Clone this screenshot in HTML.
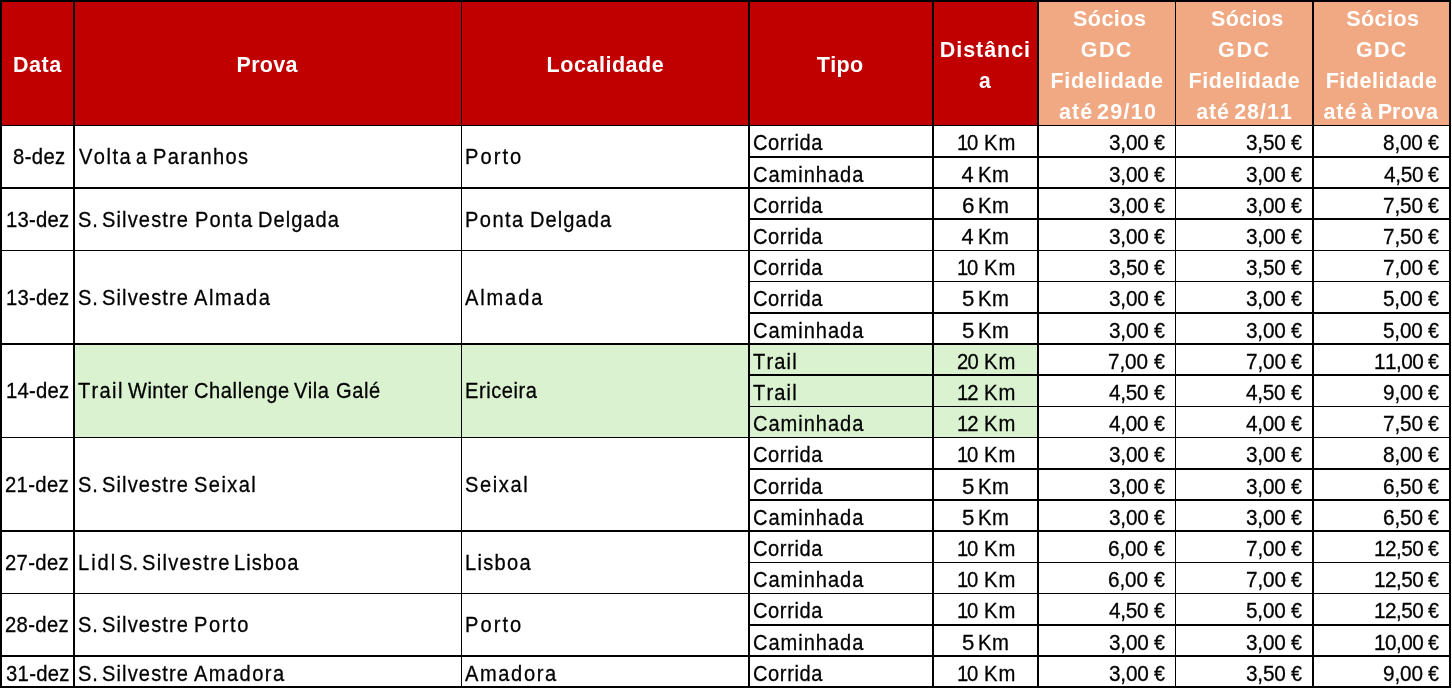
<!DOCTYPE html>
<html lang="pt">
<head>
<meta charset="utf-8">
<title>Calendário de Provas</title>
<style>
html,body{margin:0;padding:0;background:#fff;}
body{width:1452px;height:689px;overflow:hidden;position:relative;
 font-family:"Liberation Sans",sans-serif;color:#000;font-kerning:none;}
table{position:absolute;left:0;top:0;border-collapse:separate;border-spacing:0;
 table-layout:fixed;width:1451px;margin:0;padding:0;}
th,td{margin:0;padding:0;border:0 solid #000;overflow:hidden;white-space:nowrap;
 font-size:22px;line-height:24px;font-weight:400;box-sizing:border-box;
 vertical-align:top;text-align:left;border-bottom-width:2px;border-right-width:2px;}
th{font-weight:700;color:#fff;background:#c00000;border-top-width:2px;border-bottom-width:1px;}
th.s{background:#f1a983;}
th div{position:relative;height:123px;overflow:hidden;font-size:21.5px;line-height:24px;}
th p{position:absolute;left:0;margin:0;white-space:nowrap;}
th span{display:inline-block;vertical-align:top;transform:scaleX(1);transform-origin:0 50%;}
td{-webkit-text-stroke:0.3px #000;}
td span{display:inline-block;vertical-align:top;transform-origin:0 50%;}
td.t{font-size:22.3px;}
td.t span{transform:scaleX(0.9);}
td.m{font-size:21.8px;}
td.m span{transform:scaleX(0.93);}
td.n{font-size:21.6px;}
td.n span{transform:scaleX(0.96);}
td.g{background:#daf2d0;}
td.b1{border-bottom-width:1px;}
.f{border-left-width:2px;}
.c1{border-right-width:1px;}

</style>
</head>
<body>
<table>
<colgroup><col style="width:75px"><col style="width:387px"><col style="width:288px"><col style="width:184px"><col style="width:105px"><col style="width:137px"><col style="width:138px"><col style="width:137px"></colgroup>
<thead>
<tr style="height:126px">
<th class="f"><div><p style="top:51px"><span style="margin-left:11.06px;letter-spacing:0.5px">Data</span></p></div></th>
<th class="c1"><div><p style="top:51px"><span style="margin-left:161.56px;letter-spacing:0.26px">Prova</span></p></div></th>
<th><div><p style="top:51px"><span style="margin-left:84.56px;letter-spacing:0.54px">Localidade</span></p></div></th>
<th><div><p style="top:51px"><span style="margin-left:66.76px;letter-spacing:0.34px">Tipo</span></p></div></th>
<th><div><p style="top:36px"><span style="margin-left:5.76px;letter-spacing:0.95px">Distânci</span></p><p style="top:67px"><span style="margin-left:44.78px;transform:scaleX(0.98)">a</span></p></div></th>
<th class="s c1"><div><p style="top:5px"><span style="margin-left:33.88px;letter-spacing:0.52px">Sócios</span></p> <p style="top:36px"><span style="margin-left:41.82px;letter-spacing:1.4px">GDC</span></p> <p style="top:67px"><span style="margin-left:11.46px;letter-spacing:0.68px">Fidelidade</span></p> <p style="top:98px"><span style="margin-left:20.07px;letter-spacing:1px">até</span> <span style="margin-left:-2.25px;letter-spacing:1.31px">29/10</span></p></div></th>
<th class="s"><div><p style="top:5px"><span style="margin-left:35.08px;letter-spacing:0.32px">Sócios</span></p> <p style="top:36px"><span style="margin-left:42.12px;letter-spacing:1.55px">GDC</span></p> <p style="top:67px"><span style="margin-left:12.46px;letter-spacing:0.54px">Fidelidade</span></p> <p style="top:98px"><span style="margin-left:20.27px;letter-spacing:0.85px">até</span> <span style="margin-left:-1.7px;letter-spacing:0.96px">28/11</span></p></div></th>
<th class="s"><div><p style="top:5px"><span style="margin-left:32.28px;letter-spacing:0.44px">Sócios</span></p> <p style="top:36px"><span style="margin-left:42.12px;letter-spacing:1.15px">GDC</span></p> <p style="top:67px"><span style="margin-left:11.66px;letter-spacing:0.54px">Fidelidade</span></p> <p style="top:98px"><span style="margin-left:9.47px;letter-spacing:0.9px">até</span> <span style="margin-left:-2.42px;transform:scaleX(0.95)">à</span> <span style="margin-left:-1.15px;letter-spacing:0.14px">Prova</span></p></div></th>
</tr>
</thead>
<tbody>
<tr style="height:32px"><td class="m f" rowspan="2" style="padding-top:19px;padding-left:10.62px"><span style="letter-spacing:0.4px">8-dez</span></td><td class="t c1" rowspan="2" style="padding-top:19px;padding-left:3.61px"><span style="letter-spacing:1.62px">Volta</span> <span style="margin-left:-7.25px;transform:scaleX(0.85)">a</span> <span style="margin-left:-1.74px;letter-spacing:1.44px">Paranhos</span></td><td class="t" rowspan="2" style="padding-top:19px;padding-left:2.75px"><span style="letter-spacing:2.28px">Porto</span></td><td class="t" style="padding-top:5px;padding-left:2.98px"><span style="letter-spacing:0.67px">Corrida</span></td><td class="m" style="padding-top:5px;padding-left:23.16px"><span style="letter-spacing:-1.31px">10</span> <span style="margin-left:-0.81px;letter-spacing:1.17px">Km</span></td><td class="n c1" style="padding-top:5px;padding-left:69.71px"><span style="letter-spacing:-0.19px">3,00</span> <span style="margin-left:-2.43px;transform:scaleX(0.91)">€</span></td><td class="n" style="padding-top:5px;padding-left:69.81px"><span style="letter-spacing:-0.19px">3,50</span> <span style="margin-left:-2.43px;transform:scaleX(0.91)">€</span></td><td class="n" style="padding-top:5px;padding-left:69.3px"><span style="letter-spacing:-0.16px">8,00</span> <span style="margin-left:-2.47px;transform:scaleX(0.91)">€</span></td></tr>
<tr style="height:31px"><td class="t" style="padding-top:5px;padding-left:2.98px"><span style="letter-spacing:1.08px">Caminhada</span></td><td class="m" style="padding-top:5px;padding-left:27.6px"><span style="transform:scaleX(1)">4</span> <span style="margin-left:-1.74px;letter-spacing:0.53px">Km</span></td><td class="n c1" style="padding-top:5px;padding-left:69.71px"><span style="letter-spacing:-0.19px">3,00</span> <span style="margin-left:-2.43px;transform:scaleX(0.91)">€</span></td><td class="n" style="padding-top:5px;padding-left:69.81px"><span style="letter-spacing:-0.19px">3,00</span> <span style="margin-left:-2.43px;transform:scaleX(0.91)">€</span></td><td class="n" style="padding-top:5px;padding-left:69.72px"><span style="letter-spacing:-0.3px">4,50</span> <span style="margin-left:-2.31px;transform:scaleX(0.91)">€</span></td></tr>
<tr style="height:31px"><td class="m b1 f" rowspan="2" style="padding-top:19px;padding-left:3.96px"><span style="letter-spacing:0.23px">13-dez</span></td><td class="t b1 c1" rowspan="2" style="padding-top:19px;padding-left:2.79px"><span style="letter-spacing:0.98px">S.</span> <span style="margin-left:-4.62px;letter-spacing:1.26px">Silvestre</span> <span style="margin-left:-10.85px;letter-spacing:1.28px">Ponta</span> <span style="margin-left:-7.06px;letter-spacing:1.13px">Delgada</span></td><td class="t b1" rowspan="2" style="padding-top:19px;padding-left:2.75px"><span style="letter-spacing:1.61px">Ponta</span> <span style="margin-left:-7.22px;letter-spacing:1.18px">Delgada</span></td><td class="t" style="padding-top:5px;padding-left:2.98px"><span style="letter-spacing:0.67px">Corrida</span></td><td class="m" style="padding-top:5px;padding-left:27.56px"><span style="transform:scaleX(1.03)">6</span> <span style="margin-left:-1.7px;letter-spacing:0.53px">Km</span></td><td class="n c1" style="padding-top:5px;padding-left:69.71px"><span style="letter-spacing:-0.19px">3,00</span> <span style="margin-left:-2.43px;transform:scaleX(0.91)">€</span></td><td class="n" style="padding-top:5px;padding-left:69.81px"><span style="letter-spacing:-0.19px">3,00</span> <span style="margin-left:-2.43px;transform:scaleX(0.91)">€</span></td><td class="n" style="padding-top:5px;padding-left:69.14px"><span style="letter-spacing:-0.1px">7,50</span> <span style="margin-left:-2.54px;transform:scaleX(0.91)">€</span></td></tr>
<tr style="height:31px"><td class="t b1" style="padding-top:5px;padding-left:2.98px"><span style="letter-spacing:0.67px">Corrida</span></td><td class="m b1" style="padding-top:5px;padding-left:27.6px"><span style="transform:scaleX(1)">4</span> <span style="margin-left:-1.74px;letter-spacing:0.53px">Km</span></td><td class="n b1 c1" style="padding-top:5px;padding-left:69.71px"><span style="letter-spacing:-0.19px">3,00</span> <span style="margin-left:-2.43px;transform:scaleX(0.91)">€</span></td><td class="n b1" style="padding-top:5px;padding-left:69.81px"><span style="letter-spacing:-0.19px">3,00</span> <span style="margin-left:-2.43px;transform:scaleX(0.91)">€</span></td><td class="n b1" style="padding-top:5px;padding-left:69.14px"><span style="letter-spacing:-0.1px">7,50</span> <span style="margin-left:-2.54px;transform:scaleX(0.91)">€</span></td></tr>
<tr style="height:31px"><td class="m f" rowspan="3" style="padding-top:35px;padding-left:3.96px"><span style="letter-spacing:0.23px">13-dez</span></td><td class="t c1" rowspan="3" style="padding-top:35px;padding-left:2.79px"><span style="letter-spacing:0.98px">S.</span> <span style="margin-left:-4.62px;letter-spacing:1.26px">Silvestre</span> <span style="margin-left:-11.04px;letter-spacing:1.75px">Almada</span></td><td class="t" rowspan="3" style="padding-top:35px;padding-left:3.36px"><span style="letter-spacing:2.06px">Almada</span></td><td class="t b1" style="padding-top:5px;padding-left:2.98px"><span style="letter-spacing:0.67px">Corrida</span></td><td class="m b1" style="padding-top:5px;padding-left:23.16px"><span style="letter-spacing:-1.31px">10</span> <span style="margin-left:-0.81px;letter-spacing:1.17px">Km</span></td><td class="n b1 c1" style="padding-top:5px;padding-left:69.71px"><span style="letter-spacing:-0.19px">3,50</span> <span style="margin-left:-2.43px;transform:scaleX(0.91)">€</span></td><td class="n b1" style="padding-top:5px;padding-left:69.81px"><span style="letter-spacing:-0.19px">3,50</span> <span style="margin-left:-2.43px;transform:scaleX(0.91)">€</span></td><td class="n b1" style="padding-top:5px;padding-left:69.14px"><span style="letter-spacing:-0.1px">7,00</span> <span style="margin-left:-2.54px;transform:scaleX(0.91)">€</span></td></tr>
<tr style="height:32px"><td class="t" style="padding-top:5px;padding-left:2.98px"><span style="letter-spacing:0.67px">Corrida</span></td><td class="m" style="padding-top:5px;padding-left:27.71px"><span style="transform:scaleX(1.02)">5</span> <span style="margin-left:-1.86px;letter-spacing:0.53px">Km</span></td><td class="n c1" style="padding-top:5px;padding-left:69.71px"><span style="letter-spacing:-0.19px">3,00</span> <span style="margin-left:-2.43px;transform:scaleX(0.91)">€</span></td><td class="n" style="padding-top:5px;padding-left:69.81px"><span style="letter-spacing:-0.19px">3,00</span> <span style="margin-left:-2.43px;transform:scaleX(0.91)">€</span></td><td class="n" style="padding-top:5px;padding-left:69.37px"><span style="letter-spacing:-0.18px">5,00</span> <span style="margin-left:-2.44px;transform:scaleX(0.91)">€</span></td></tr>
<tr style="height:31px"><td class="t" style="padding-top:5px;padding-left:2.98px"><span style="letter-spacing:1.08px">Caminhada</span></td><td class="m" style="padding-top:5px;padding-left:27.71px"><span style="transform:scaleX(1.02)">5</span> <span style="margin-left:-1.86px;letter-spacing:0.53px">Km</span></td><td class="n c1" style="padding-top:5px;padding-left:69.71px"><span style="letter-spacing:-0.19px">3,00</span> <span style="margin-left:-2.43px;transform:scaleX(0.91)">€</span></td><td class="n" style="padding-top:5px;padding-left:69.81px"><span style="letter-spacing:-0.19px">3,00</span> <span style="margin-left:-2.43px;transform:scaleX(0.91)">€</span></td><td class="n" style="padding-top:5px;padding-left:69.37px"><span style="letter-spacing:-0.18px">5,00</span> <span style="margin-left:-2.44px;transform:scaleX(0.91)">€</span></td></tr>
<tr style="height:31px"><td class="m b1 f" rowspan="3" style="padding-top:34px;padding-left:3.96px"><span style="letter-spacing:0.23px">14-dez</span></td><td class="t g b1 c1" rowspan="3" style="padding-top:34px;padding-left:2.85px"><span style="letter-spacing:1.49px">Trail</span> <span style="margin-left:-7.05px;letter-spacing:0.5px">Winter</span> <span style="margin-left:-7.84px;letter-spacing:0.67px">Challenge</span> <span style="margin-left:-12.03px;letter-spacing:0.53px">Vila</span> <span style="margin-left:-3.51px;letter-spacing:0.67px">Galé</span></td><td class="t g b1" rowspan="3" style="padding-top:34px;padding-left:2.55px"><span style="letter-spacing:0.62px">Ericeira</span></td><td class="t g" style="padding-top:5px;padding-left:3.25px"><span style="letter-spacing:1.27px">Trail</span></td><td class="m g" style="padding-top:5px;padding-left:22.78px"><span style="letter-spacing:-0.9px">20</span> <span style="margin-left:-1.24px;letter-spacing:1.17px">Km</span></td><td class="n c1" style="padding-top:5px;padding-left:69.44px"><span style="letter-spacing:-0.1px">7,00</span> <span style="margin-left:-2.54px;transform:scaleX(0.91)">€</span></td><td class="n" style="padding-top:5px;padding-left:69.54px"><span style="letter-spacing:-0.1px">7,00</span> <span style="margin-left:-2.54px;transform:scaleX(0.91)">€</span></td><td class="n" style="padding-top:5px;padding-left:59.52px"><span style="letter-spacing:-0.57px">11,00</span> <span style="margin-left:-2.46px;transform:scaleX(0.91)">€</span></td></tr>
<tr style="height:31px"><td class="t g b1" style="padding-top:5px;padding-left:3.25px"><span style="letter-spacing:1.27px">Trail</span></td><td class="m g b1" style="padding-top:5px;padding-left:23.16px"><span style="letter-spacing:-1.06px">12</span> <span style="margin-left:-1.3px;letter-spacing:1.17px">Km</span></td><td class="n b1 c1" style="padding-top:5px;padding-left:70.02px"><span style="letter-spacing:-0.3px">4,50</span> <span style="margin-left:-2.31px;transform:scaleX(0.91)">€</span></td><td class="n b1" style="padding-top:5px;padding-left:70.12px"><span style="letter-spacing:-0.3px">4,50</span> <span style="margin-left:-2.31px;transform:scaleX(0.91)">€</span></td><td class="n b1" style="padding-top:5px;padding-left:69.23px"><span style="letter-spacing:-0.13px">9,00</span> <span style="margin-left:-2.5px;transform:scaleX(0.91)">€</span></td></tr>
<tr style="height:31px"><td class="t g b1" style="padding-top:5px;padding-left:2.98px"><span style="letter-spacing:1.08px">Caminhada</span></td><td class="m g b1" style="padding-top:5px;padding-left:23.16px"><span style="letter-spacing:-1.06px">12</span> <span style="margin-left:-1.3px;letter-spacing:1.17px">Km</span></td><td class="n b1 c1" style="padding-top:5px;padding-left:70.02px"><span style="letter-spacing:-0.3px">4,00</span> <span style="margin-left:-2.31px;transform:scaleX(0.91)">€</span></td><td class="n b1" style="padding-top:5px;padding-left:70.12px"><span style="letter-spacing:-0.3px">4,00</span> <span style="margin-left:-2.31px;transform:scaleX(0.91)">€</span></td><td class="n b1" style="padding-top:5px;padding-left:69.14px"><span style="letter-spacing:-0.1px">7,50</span> <span style="margin-left:-2.54px;transform:scaleX(0.91)">€</span></td></tr>
<tr style="height:32px"><td class="m f" rowspan="3" style="padding-top:35px;padding-left:3.28px"><span style="letter-spacing:0.37px">21-dez</span></td><td class="t c1" rowspan="3" style="padding-top:35px;padding-left:2.79px"><span style="letter-spacing:0.98px">S.</span> <span style="margin-left:-4.62px;letter-spacing:1.26px">Silvestre</span> <span style="margin-left:-11.91px;letter-spacing:1.58px">Seixal</span></td><td class="t" rowspan="3" style="padding-top:35px;padding-left:2.59px"><span style="letter-spacing:1.78px">Seixal</span></td><td class="t" style="padding-top:5px;padding-left:2.98px"><span style="letter-spacing:0.67px">Corrida</span></td><td class="m" style="padding-top:5px;padding-left:23.16px"><span style="letter-spacing:-1.31px">10</span> <span style="margin-left:-0.81px;letter-spacing:1.17px">Km</span></td><td class="n c1" style="padding-top:5px;padding-left:69.71px"><span style="letter-spacing:-0.19px">3,00</span> <span style="margin-left:-2.43px;transform:scaleX(0.91)">€</span></td><td class="n" style="padding-top:5px;padding-left:69.81px"><span style="letter-spacing:-0.19px">3,00</span> <span style="margin-left:-2.43px;transform:scaleX(0.91)">€</span></td><td class="n" style="padding-top:5px;padding-left:69.3px"><span style="letter-spacing:-0.16px">8,00</span> <span style="margin-left:-2.47px;transform:scaleX(0.91)">€</span></td></tr>
<tr style="height:31px"><td class="t" style="padding-top:5px;padding-left:2.98px"><span style="letter-spacing:0.67px">Corrida</span></td><td class="m" style="padding-top:5px;padding-left:27.71px"><span style="transform:scaleX(1.02)">5</span> <span style="margin-left:-1.86px;letter-spacing:0.53px">Km</span></td><td class="n c1" style="padding-top:5px;padding-left:69.71px"><span style="letter-spacing:-0.19px">3,00</span> <span style="margin-left:-2.43px;transform:scaleX(0.91)">€</span></td><td class="n" style="padding-top:5px;padding-left:69.81px"><span style="letter-spacing:-0.19px">3,00</span> <span style="margin-left:-2.43px;transform:scaleX(0.91)">€</span></td><td class="n" style="padding-top:5px;padding-left:69.15px"><span style="letter-spacing:-0.1px">6,50</span> <span style="margin-left:-2.53px;transform:scaleX(0.91)">€</span></td></tr>
<tr style="height:31px"><td class="t" style="padding-top:5px;padding-left:2.98px"><span style="letter-spacing:1.08px">Caminhada</span></td><td class="m" style="padding-top:5px;padding-left:27.71px"><span style="transform:scaleX(1.02)">5</span> <span style="margin-left:-1.86px;letter-spacing:0.53px">Km</span></td><td class="n c1" style="padding-top:5px;padding-left:69.71px"><span style="letter-spacing:-0.19px">3,00</span> <span style="margin-left:-2.43px;transform:scaleX(0.91)">€</span></td><td class="n" style="padding-top:5px;padding-left:69.81px"><span style="letter-spacing:-0.19px">3,00</span> <span style="margin-left:-2.43px;transform:scaleX(0.91)">€</span></td><td class="n" style="padding-top:5px;padding-left:69.15px"><span style="letter-spacing:-0.1px">6,50</span> <span style="margin-left:-2.53px;transform:scaleX(0.91)">€</span></td></tr>
<tr style="height:31px"><td class="m b1 f" rowspan="2" style="padding-top:19px;padding-left:3.28px"><span style="letter-spacing:0.37px">27-dez</span></td><td class="t b1 c1" rowspan="2" style="padding-top:19px;padding-left:2.85px"><span style="letter-spacing:2.2px">Lidl</span> <span style="margin-left:-8.88px;letter-spacing:0.2px">S.</span> <span style="margin-left:-4.37px;letter-spacing:1.44px">Silvestre</span> <span style="margin-left:-12.97px;letter-spacing:1.18px">Lisboa</span></td><td class="t b1" rowspan="2" style="padding-top:19px;padding-left:2.65px"><span style="letter-spacing:1.45px">Lisboa</span></td><td class="t b1" style="padding-top:5px;padding-left:2.98px"><span style="letter-spacing:0.67px">Corrida</span></td><td class="m b1" style="padding-top:5px;padding-left:23.16px"><span style="letter-spacing:-1.31px">10</span> <span style="margin-left:-0.81px;letter-spacing:1.17px">Km</span></td><td class="n b1 c1" style="padding-top:5px;padding-left:69.45px"><span style="letter-spacing:-0.1px">6,00</span> <span style="margin-left:-2.53px;transform:scaleX(0.91)">€</span></td><td class="n b1" style="padding-top:5px;padding-left:69.54px"><span style="letter-spacing:-0.1px">7,00</span> <span style="margin-left:-2.54px;transform:scaleX(0.91)">€</span></td><td class="n b1" style="padding-top:5px;padding-left:59.52px"><span style="letter-spacing:-0.57px">12,50</span> <span style="margin-left:-2.46px;transform:scaleX(0.91)">€</span></td></tr>
<tr style="height:31px"><td class="t b1" style="padding-top:5px;padding-left:2.98px"><span style="letter-spacing:1.08px">Caminhada</span></td><td class="m b1" style="padding-top:5px;padding-left:23.16px"><span style="letter-spacing:-1.31px">10</span> <span style="margin-left:-0.81px;letter-spacing:1.17px">Km</span></td><td class="n b1 c1" style="padding-top:5px;padding-left:69.45px"><span style="letter-spacing:-0.1px">6,00</span> <span style="margin-left:-2.53px;transform:scaleX(0.91)">€</span></td><td class="n b1" style="padding-top:5px;padding-left:69.54px"><span style="letter-spacing:-0.1px">7,00</span> <span style="margin-left:-2.54px;transform:scaleX(0.91)">€</span></td><td class="n b1" style="padding-top:5px;padding-left:59.52px"><span style="letter-spacing:-0.57px">12,50</span> <span style="margin-left:-2.46px;transform:scaleX(0.91)">€</span></td></tr>
<tr style="height:32px"><td class="m f" rowspan="2" style="padding-top:19px;padding-left:3.28px"><span style="letter-spacing:0.37px">28-dez</span></td><td class="t c1" rowspan="2" style="padding-top:19px;padding-left:2.79px"><span style="letter-spacing:0.98px">S.</span> <span style="margin-left:-4.62px;letter-spacing:1.26px">Silvestre</span> <span style="margin-left:-11.15px;letter-spacing:1.81px">Porto</span></td><td class="t" rowspan="2" style="padding-top:19px;padding-left:2.75px"><span style="letter-spacing:2.28px">Porto</span></td><td class="t" style="padding-top:5px;padding-left:2.98px"><span style="letter-spacing:0.67px">Corrida</span></td><td class="m" style="padding-top:5px;padding-left:23.16px"><span style="letter-spacing:-1.31px">10</span> <span style="margin-left:-0.81px;letter-spacing:1.17px">Km</span></td><td class="n c1" style="padding-top:5px;padding-left:70.02px"><span style="letter-spacing:-0.3px">4,50</span> <span style="margin-left:-2.31px;transform:scaleX(0.91)">€</span></td><td class="n" style="padding-top:5px;padding-left:69.77px"><span style="letter-spacing:-0.18px">5,00</span> <span style="margin-left:-2.44px;transform:scaleX(0.91)">€</span></td><td class="n" style="padding-top:5px;padding-left:59.52px"><span style="letter-spacing:-0.57px">12,50</span> <span style="margin-left:-2.46px;transform:scaleX(0.91)">€</span></td></tr>
<tr style="height:31px"><td class="t" style="padding-top:5px;padding-left:2.98px"><span style="letter-spacing:1.08px">Caminhada</span></td><td class="m" style="padding-top:5px;padding-left:27.71px"><span style="transform:scaleX(1.02)">5</span> <span style="margin-left:-1.86px;letter-spacing:0.53px">Km</span></td><td class="n c1" style="padding-top:5px;padding-left:69.71px"><span style="letter-spacing:-0.19px">3,00</span> <span style="margin-left:-2.43px;transform:scaleX(0.91)">€</span></td><td class="n" style="padding-top:5px;padding-left:69.81px"><span style="letter-spacing:-0.19px">3,00</span> <span style="margin-left:-2.43px;transform:scaleX(0.91)">€</span></td><td class="n" style="padding-top:5px;padding-left:59.52px"><span style="letter-spacing:-0.57px">10,00</span> <span style="margin-left:-2.46px;transform:scaleX(0.91)">€</span></td></tr>
<tr style="height:31px"><td class="m f" style="padding-top:5px;padding-left:3.53px"><span style="letter-spacing:0.32px">31-dez</span></td><td class="t c1" style="padding-top:5px;padding-left:2.79px"><span style="letter-spacing:0.98px">S.</span> <span style="margin-left:-4.62px;letter-spacing:1.26px">Silvestre</span> <span style="margin-left:-11.04px;letter-spacing:1.61px">Amadora</span></td><td class="t" style="padding-top:5px;padding-left:3.16px"><span style="letter-spacing:1.8px">Amadora</span></td><td class="t" style="padding-top:5px;padding-left:2.98px"><span style="letter-spacing:0.67px">Corrida</span></td><td class="m" style="padding-top:5px;padding-left:23.16px"><span style="letter-spacing:-1.31px">10</span> <span style="margin-left:-0.81px;letter-spacing:1.17px">Km</span></td><td class="n c1" style="padding-top:5px;padding-left:69.71px"><span style="letter-spacing:-0.19px">3,00</span> <span style="margin-left:-2.43px;transform:scaleX(0.91)">€</span></td><td class="n" style="padding-top:5px;padding-left:69.81px"><span style="letter-spacing:-0.19px">3,50</span> <span style="margin-left:-2.43px;transform:scaleX(0.91)">€</span></td><td class="n" style="padding-top:5px;padding-left:69.23px"><span style="letter-spacing:-0.13px">9,00</span> <span style="margin-left:-2.5px;transform:scaleX(0.91)">€</span></td></tr>
</tbody>
</table>
</body>
</html>
